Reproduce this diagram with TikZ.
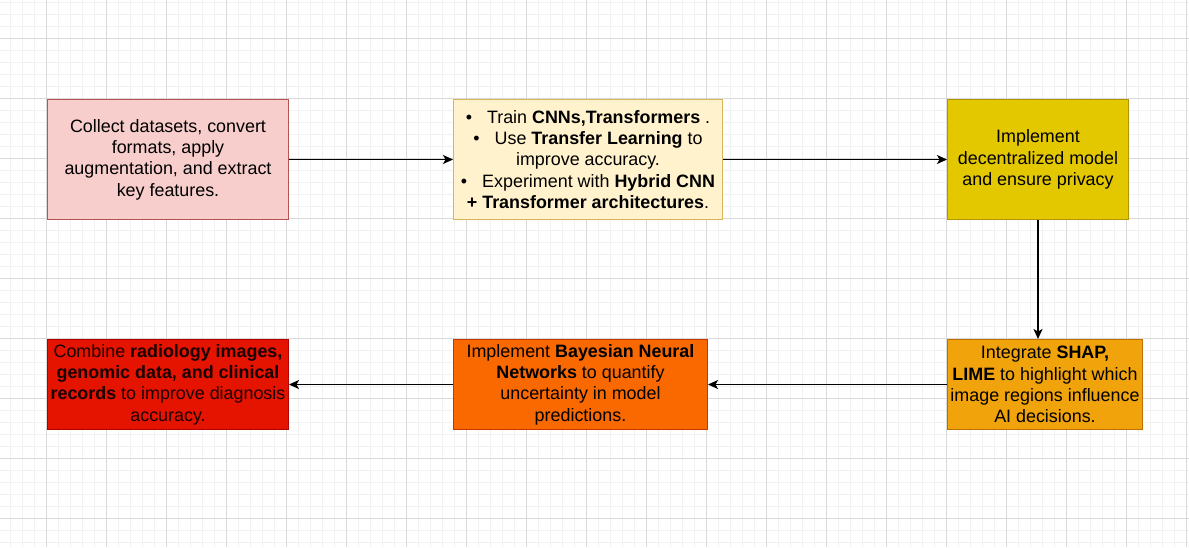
\documentclass[tikz,border=0pt]{standalone}
\usepackage{fontspec}
\setmainfont{Liberation Sans}
\usetikzlibrary{arrows.meta}
\definecolor{pinkfill}{HTML}{F8CECC}\definecolor{pinkdraw}{HTML}{B85450}
\definecolor{yelfill}{HTML}{FFF2CC}\definecolor{yeldraw}{HTML}{D6B656}
\definecolor{olvfill}{HTML}{E3C800}\definecolor{olvdraw}{HTML}{B09500}
\definecolor{ambfill}{HTML}{F0A30A}\definecolor{ambdraw}{HTML}{BD7000}
\definecolor{orgfill}{HTML}{FA6800}\definecolor{orgdraw}{HTML}{C73500}
\definecolor{redfill}{HTML}{E51400}\definecolor{reddraw}{HTML}{B20000}
\definecolor{gridminor}{HTML}{F1F1F1}\definecolor{gridmajor}{HTML}{DADADA}
\definecolor{redtext}{HTML}{1A0000}
\begin{document}
\begin{tikzpicture}[x=1pt,y=-1pt,
  box/.style={draw, line width=1pt, align=center, inner sep=0pt, anchor=north west,
    font=\fontsize{17.9}{21.3}\selectfont},
  conn/.style={line width=1.3pt, -{Stealth[length=10pt,width=9pt,inset=2.5pt]}}]
\useasboundingbox (0,0) rectangle (1189,547);
\fill[white] (0,0) rectangle (1189,547);
% grid
\foreach \i in {0,...,99} {
  \pgfmathsetmacro{\xx}{10.7+12*\i}
  \ifdim\xx pt<1189pt \draw[gridminor, line width=0.8pt] (\xx,0) -- (\xx,547);\fi
}
\foreach \i in {0,...,45} {
  \pgfmathsetmacro{\yy}{2.3+12*\i}
  \ifdim\yy pt<547pt \draw[gridminor, line width=0.8pt] (0,\yy) -- (1189,\yy);\fi
}
\foreach \i in {0,...,19} {
  \pgfmathsetmacro{\xx}{46.7+60*\i}
  \ifdim\xx pt<1189pt \draw[gridmajor, line width=0.8pt] (\xx,0) -- (\xx,547);\fi
}
\foreach \i in {0,...,8} {
  \pgfmathsetmacro{\yy}{38.3+60*\i}
  \ifdim\yy pt<547pt \draw[gridmajor, line width=0.8pt] (0,\yy) -- (1189,\yy);\fi
}
% boxes
\node[box, fill=pinkfill, draw=pinkdraw, minimum width=241pt, minimum height=120pt] (n1) at (47,99)
  {Collect datasets, convert\\formats, apply\\augmentation, and extract\\key features.};
\node[box, fill=yelfill, draw=yeldraw, minimum width=269pt, minimum height=120pt] (n2) at (453,99)
  {•\hspace{15pt}Train \textbf{CNNs,Transformers} .\\
   •\hspace{15pt}Use \textbf{Transfer Learning} to\\
   improve accuracy.\\
   •\hspace{15pt}Experiment with \textbf{Hybrid CNN}\\
   \textbf{+ Transformer architectures}.};
\node[box, fill=olvfill, draw=olvdraw, minimum width=181pt, minimum height=120pt] (n3) at (947,99)
  {Implement\\decentralized model\\and ensure privacy};
\node[box, fill=ambfill, draw=ambdraw, minimum width=195pt, minimum height=90pt] (n4) at (947,339)
  {Integrate \textbf{SHAP,}\\\textbf{LIME} to highlight which\\image regions influence\\AI decisions.};
\node[box, fill=orgfill, draw=orgdraw, minimum width=254pt, minimum height=90pt] (n5) at (453,339)
  {Implement \textbf{Bayesian Neural}\\\textbf{Networks} to quantify\\uncertainty in model\\predictions.};
\node[box, fill=redfill, draw=reddraw, text=redtext, minimum width=241pt, minimum height=90pt] (n6) at (47,339)
  {Combine \textbf{radiology images,}\\\textbf{genomic data, and clinical}\\\textbf{records} to improve diagnosis\\accuracy.};
% connectors
\draw[conn] (n1.east) -- (n2.west);
\draw[conn] (n2.east) -- (n3.west);
\draw[conn] (n3.south) -- (n3.south |- n4.north);
\draw[conn] (n4.west) -- (n5.east);
\draw[conn] (n5.west) -- (n6.east);
\end{tikzpicture}
\end{document}
